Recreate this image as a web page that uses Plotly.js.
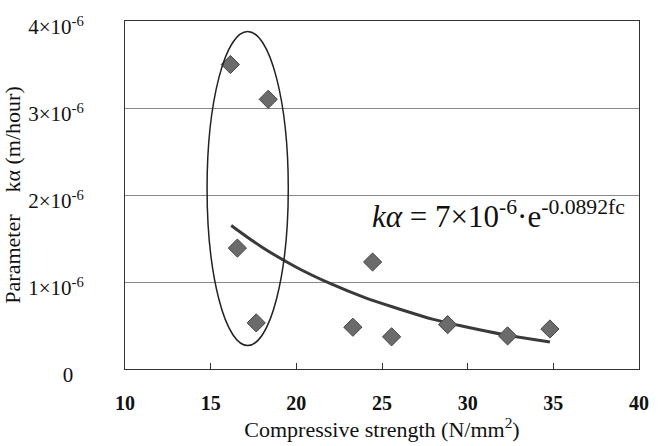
<!DOCTYPE html>
<html><head><meta charset="utf-8">
<script src="https://cdn.plot.ly/plotly-3.0.1.min.js"></script>
<style>html,body{margin:0;padding:0;background:#fff}#chart{width:665px;height:446px}</style>
</head><body><div id="chart"></div>
<script>
// Measured points
const strength = [16.15, 18.36, 16.56, 17.66, 23.3, 24.45, 25.56, 28.83, 32.33, 34.8];
const kAlpha = [3.5e-6, 3.1e-6, 1.39e-6, 0.53e-6, 0.48e-6, 1.23e-6, 0.37e-6, 0.51e-6, 0.38e-6, 0.46e-6];
// Trend line
const trendX = [16.2, 18, 20, 22, 24, 26, 28, 30, 32, 34.8];
const trendY = [1.65e-6, 1.40e-6, 1.17e-6, 0.98e-6, 0.82e-6, 0.69e-6, 0.57e-6, 0.48e-6, 0.40e-6, 0.31e-6];
// Ellipse around the low-strength group (x range, y range)
const groupX = [14.79, 19.53];
const groupY = [0.27e-6, 3.88e-6];
const yTickVals = [0, 1e-6, 2e-6, 3e-6, 4e-6];
const yTickText = ['0&nbsp;&nbsp;', '1×10<sup>-6</sup>', '2×10<sup>-6</sup>', '3×10<sup>-6</sup>', '4×10<sup>-6</sup>'];
const xTickVals = [10, 15, 20, 25, 30, 35, 40];

const font = "Liberation Serif";
const traces = [
  {x: trendX, y: trendY, mode: 'lines', type: 'scatter', line: {color: '#3a3a3a', width: 3, shape: 'spline'}, hoverinfo: 'skip'},
  {x: strength, y: kAlpha, mode: 'markers', type: 'scatter',
   marker: {symbol: 'diamond', size: 14, color: '#6b6b6b', line: {color: '#444', width: 1}}}
];
const layout = {
  width: 665, height: 446,
  margin: {l: 124.5, r: 26, t: 21, b: 77},
  paper_bgcolor: '#fff', plot_bgcolor: '#fff',
  showlegend: false,
  font: {family: font, color: '#111', size: 20},
  xaxis: {range: [10, 40], tickvals: xTickVals, ticks: 'inside', ticklen: 6, tickcolor: '#333',
    showgrid: false, zeroline: false, showline: true, linecolor: '#333', linewidth: 1, mirror: true,
    tickfont: {family: font, size: 20, color: '#111', weight: 'bold'}, ticklabelstandoff: 16,
    title: {text: 'Compressive strength (N/mm<sup>2</sup>)', font: {family: font, size: 22, color: '#111'}, standoff: 2}},
  yaxis: {range: [0, 4e-6], tickvals: yTickVals, ticktext: yTickText, ticks: '',
    showgrid: true, gridcolor: '#888', gridwidth: 1, zeroline: false, showline: true, linecolor: '#333', linewidth: 1, mirror: true,
    tickfont: {family: font, size: 21, color: '#111'}, ticklabelstandoff: 36, ticklabelshift: 6,
    title: {text: 'Parameter    kα (m/hour)', font: {family: font, size: 22, color: '#111'}, standoff: 4}},
  shapes: [{type: 'circle', xref: 'x', yref: 'y', x0: groupX[0], x1: groupX[1], y0: groupY[0], y1: groupY[1],
    line: {color: '#222', width: 1.5}}],
  annotations: [{xref: 'paper', yref: 'paper', x: 0.977, y: 0.445, xanchor: 'right', yanchor: 'middle', showarrow: false,
    text: '<i>kα</i> = 7×10<sup>-6</sup>·e<sup>-0.0892fc</sup>', font: {family: font, size: 31, color: '#111'}}]
};
Plotly.newPlot('chart', traces, layout, {displayModeBar: false, staticPlot: true});
</script></body></html>
